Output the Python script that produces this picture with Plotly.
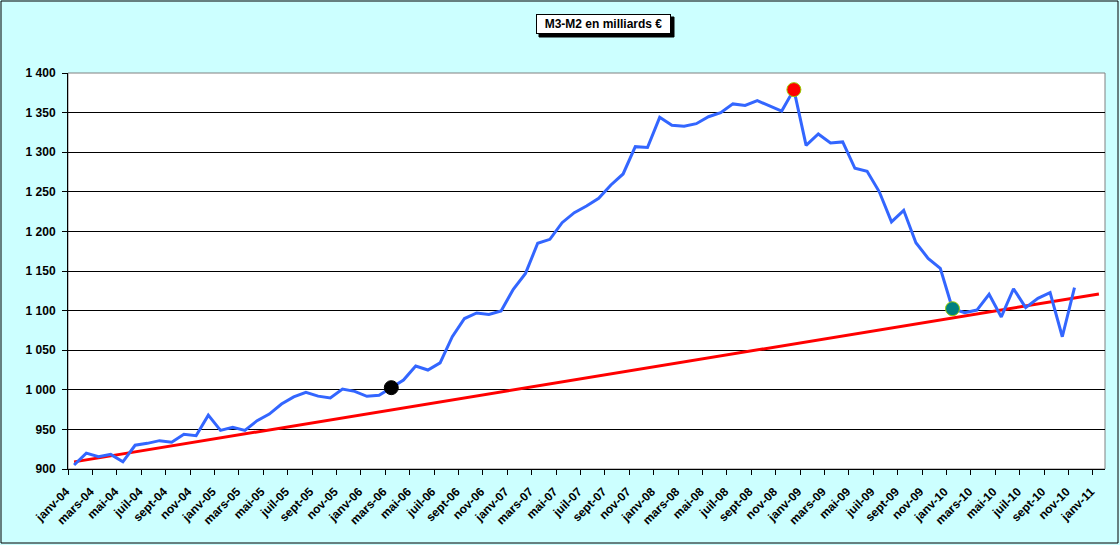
import plotly.graph_objects as go

# M3-M2, monthly, janv-04 .. nov-10 (billions of euros)
m3m2 = [905, 920, 915.5, 918.5, 909, 930, 932.4, 935.8, 933.7, 943.8, 942, 968,
        948.8, 952.6, 948.8, 961, 969.4, 982, 991, 996.8, 992, 989.6, 1001, 998,
        991.8, 993, 1002.7, 1012.4, 1030, 1025, 1034, 1067, 1090, 1097, 1095, 1099.5,
        1127, 1147, 1185, 1190, 1211, 1223.6, 1232, 1241.8, 1258.6, 1272.5, 1307, 1306,
        1344, 1334, 1332.7, 1336, 1344.8, 1350, 1361, 1359, 1365, 1358.7, 1352, 1379,
        1308.7, 1323, 1311.6, 1313, 1279.7, 1276, 1250, 1212, 1226.6, 1185.7, 1166, 1153.4,
        1102.4, 1097.4, 1100.7, 1120.5, 1092, 1127.6, 1103.7, 1115.5, 1122.6, 1067, 1129]

# trend line (janv-04 -> janv-11)
trend_x = [0, 84]
trend_y = [909, 1121]

# highlighted points: mars-06, déc-08, janv-10
dot_x = [26, 59, 72]
dot_colors = ["black", "red", "#008080"]
dot_lines = ["black", "#99CC00", "#99CC00"]

month_names = ["janv", "févr", "mars", "avr", "mai", "juin",
               "juil", "août", "sept", "oct", "nov", "déc"]
years = ["04", "05", "06", "07", "08", "09", "10", "11"]
month_labels = [m + "-" + y for y in years for m in month_names][:85]

y_ticks = [900, 950, 1000, 1050, 1100, 1150, 1200, 1250, 1300, 1350, 1400]
y_labels = ["900", "950", "1 000", "1 050", "1 100", "1 150", "1 200",
            "1 250", "1 300", "1 350", "1 400"]

fig = go.Figure()
fig.add_trace(go.Scatter(x=trend_x, y=trend_y, mode="lines",
                         line=dict(color="#FF0000", width=3)))
fig.add_trace(go.Scatter(x=list(range(len(m3m2))), y=m3m2, mode="lines",
                         line=dict(color="#3366FF", width=3)))
fig.add_trace(go.Scatter(x=dot_x, y=[m3m2[i] for i in dot_x], mode="markers",
                         marker=dict(size=14, color=dot_colors,
                                     line=dict(color=dot_lines, width=1))))

L, R, T, B = 68, 15, 73, 76
W, H = 1120, 545
pw, ph = W - L - R, H - T - B


def px(x):
    return (x - L) / pw


def py(y):
    return 1 - (y - T) / ph


fig.update_layout(
    width=W, height=H,
    margin=dict(l=L, r=R, t=T, b=B),
    paper_bgcolor="#CCFFFF",
    plot_bgcolor="white",
    showlegend=False,
    font=dict(family="Liberation Sans, Arial", size=12, color="black"),
    xaxis=dict(
        range=[-0.5, 84.5],
        tickmode="array",
        tickvals=list(range(0, 85, 2)),
        ticktext=month_labels[0:85:2],
        tickangle=-45,
        ticks="",
        ticklabelstandoff=10,
        ticklabelshift=-8,
        tickfont=dict(size=12, weight="bold"),
        showgrid=False, zeroline=False,
        showline=True, linecolor="black", linewidth=1,
        minor=dict(tickmode="array",
                   tickvals=[k - 0.5 for k in range(0, 85, 2)],
                   ticks="outside", ticklen=5, tickcolor="black", showgrid=False),
    ),
    yaxis=dict(
        range=[900, 1400],
        tickmode="array",
        tickvals=y_ticks,
        ticktext=y_labels,
        ticks="outside", ticklen=5, tickcolor="black",
        ticklabelstandoff=4,
        tickfont=dict(size=12, weight="bold"),
        showgrid=True, gridcolor="black", gridwidth=1,
        zeroline=False,
        showline=True, linecolor="black", linewidth=1,
    ),
    shapes=[
        # plot area frame
        dict(type="rect", xref="paper", yref="paper", x0=0, y0=0, x1=1, y1=1,
             line=dict(color="#808080", width=1), layer="below"),
        # outer chart border
        dict(type="rect", xref="paper", yref="paper",
             x0=px(1), x1=px(1118), y0=py(543), y1=py(1),
             line=dict(color="black", width=1)),
        # title shadow
        dict(type="rect", xref="paper", yref="paper",
             x0=px(539), x1=px(674), y0=py(37), y1=py(17),
             fillcolor="black", line=dict(color="black", width=1)),
    ],
)

fig.add_annotation(text="<b>M3-M2 en milliards €</b>", xref="paper", yref="paper",
                   x=px(603.5), y=py(24.3), xanchor="center", yanchor="middle",
                   showarrow=False, width=129, height=14,
                   font=dict(size=12, color="black"),
                   bgcolor="white", bordercolor="black", borderwidth=1, borderpad=2)

fig.write_html("out.html", config={"displayModeBar": False},
               post_script="document.body.style.margin='0px';")
